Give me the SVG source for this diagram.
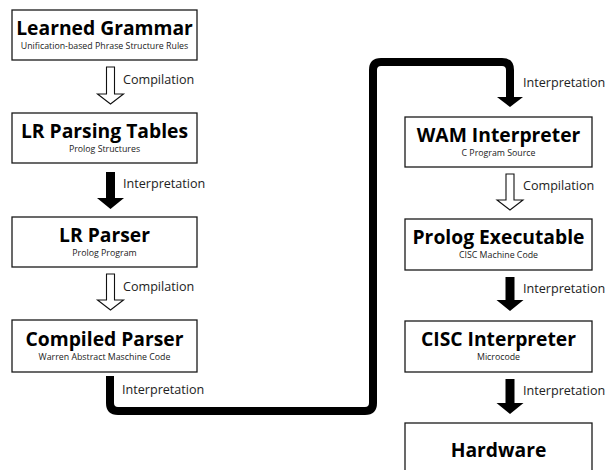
<svg xmlns="http://www.w3.org/2000/svg" width="607" height="470" viewBox="0 0 607 470">
  <style>
    .box { fill: #fff; stroke: #1a1a1a; stroke-width: 1.3; }
    .title { font-family: "Open Sans", "Noto Sans", sans-serif; font-weight: bold; font-size: 19.3px; fill: #000; text-anchor: middle; }
    .sub { font-family: "Open Sans", "Noto Sans", sans-serif; font-size: 8.8px; fill: #222; text-anchor: middle; }
    .lbl { font-family: "Open Sans", "Noto Sans", sans-serif; font-size: 12.6px; fill: #222; }
    .hollow { fill: #fff; stroke: #111; stroke-width: 1.1; stroke-linejoin: miter; }
    .solid { fill: #000; }
    .route { fill: none; stroke: #000; stroke-width: 8; stroke-linejoin: round; }
  </style>

  <!-- left column -->
  <g id="learned-grammar">
    <rect class="box" x="12" y="10" width="185" height="50"/>
    <text class="title" x="104.5" y="35">Learned Grammar</text>
    <text class="sub" x="104.5" y="49">Unification-based Phrase Structure Rules</text>
  </g>
  <g id="lr-parsing-tables">
    <rect class="box" x="12" y="113" width="185" height="50"/>
    <text class="title" x="104.5" y="138">LR Parsing Tables</text>
    <text class="sub" x="104.5" y="152">Prolog Structures</text>
  </g>
  <g id="lr-parser">
    <rect class="box" x="12" y="217" width="185" height="50"/>
    <text class="title" x="104.5" y="242">LR Parser</text>
    <text class="sub" x="104.5" y="256">Prolog Program</text>
  </g>
  <g id="compiled-parser">
    <rect class="box" x="12" y="320" width="185" height="52"/>
    <text class="title" x="104.5" y="346">Compiled Parser</text>
    <text class="sub" x="104.5" y="360">Warren Abstract Maschine Code</text>
  </g>

  <!-- right column -->
  <g id="wam-interpreter">
    <rect class="box" x="405" y="117" width="187" height="50"/>
    <text class="title" x="498.5" y="142">WAM Interpreter</text>
    <text class="sub" x="498.5" y="156">C Program Source</text>
  </g>
  <g id="prolog-executable">
    <rect class="box" x="405" y="219" width="187" height="51"/>
    <text class="title" x="498.5" y="244">Prolog Executable</text>
    <text class="sub" x="498.5" y="258">CISC Machine Code</text>
  </g>
  <g id="cisc-interpreter">
    <rect class="box" x="405" y="321" width="187" height="51"/>
    <text class="title" x="498.5" y="346">CISC Interpreter</text>
    <text class="sub" x="498.5" y="360">Microcode</text>
  </g>
  <g id="hardware">
    <rect class="box" x="405" y="423" width="187" height="60"/>
    <text class="title" x="498.5" y="457">Hardware</text>
  </g>

  <!-- connectors -->
  <g id="connectors">
    <!-- compilation: learned grammar -> LR parsing tables -->
    <path class="hollow" d="M106.5,67 H114.5 V94 H123.5 L110.5,104 L97.5,94 H106.5 Z"/>
    <text class="lbl" x="123" y="84">Compilation</text>

    <!-- interpretation: LR parsing tables -> LR parser -->
    <path class="solid" d="M106,172 H115 V198 H124 L110.5,209 L97,198 H106 Z"/>
    <text class="lbl" x="123" y="188">Interpretation</text>

    <!-- compilation: LR parser -> compiled parser -->
    <path class="hollow" d="M106.5,274 H114.5 V300 H123.5 L110.5,310 L97.5,300 H106.5 Z"/>
    <text class="lbl" x="123" y="291">Compilation</text>

    <!-- interpretation: compiled parser -> WAM interpreter (routed) -->
    <path class="route" d="M110,376 V403 Q110,411 118,411 H365 Q373,411 373,403 V70 Q373,62 381,62 H502 Q510,62 510,70 V98"/>
    <path class="solid" d="M497,97 H523 L510,107 Z"/>
    <text class="lbl" x="122" y="394">Interpretation</text>
    <text class="lbl" x="523" y="87">Interpretation</text>

    <!-- compilation: WAM interpreter -> prolog executable -->
    <path class="hollow" d="M506,174 H514 V200 H523 L510,210 L497,200 H506 Z"/>
    <text class="lbl" x="523" y="190">Compilation</text>

    <!-- interpretation: prolog executable -> CISC interpreter -->
    <path class="solid" d="M505.5,277 H514.5 V300 H523.5 L510,311 L496.5,300 H505.5 Z"/>
    <text class="lbl" x="523" y="293">Interpretation</text>

    <!-- interpretation: CISC interpreter -> hardware -->
    <path class="solid" d="M505.5,379 H514.5 V403 H523.5 L510,414 L496.5,403 H505.5 Z"/>
    <text class="lbl" x="523" y="395">Interpretation</text>
  </g>
</svg>
